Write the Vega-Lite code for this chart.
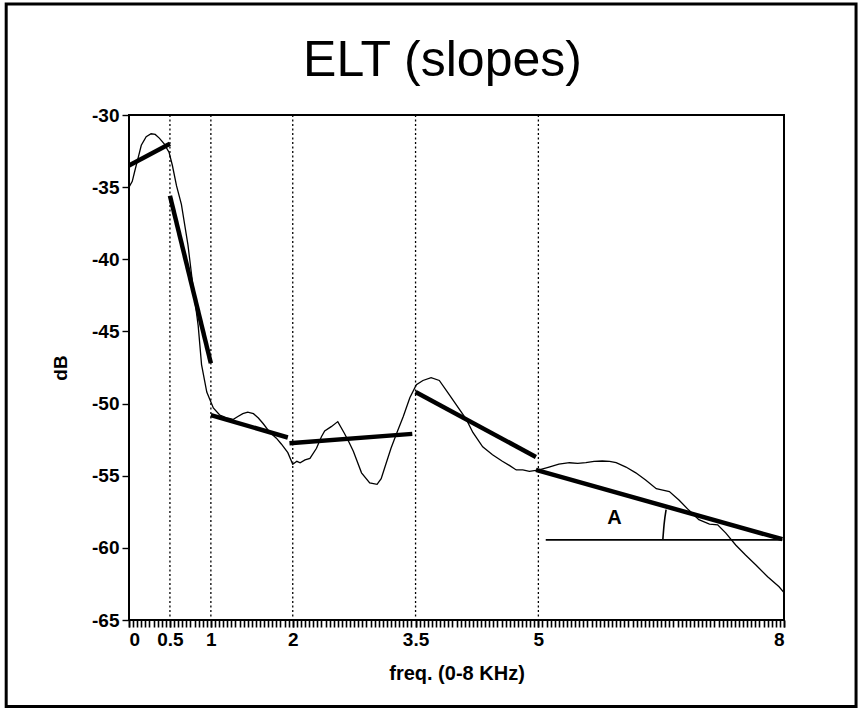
{
  "$schema": "https://vega.github.io/schema/vega-lite/v6.json",
  "autosize": {"type": "none"},
  "width": 655,
  "height": 505,
  "padding": {"left": 129, "top": 115, "right": 76, "bottom": 89},
  "background": "white",
  "title": {
    "text": "ELT (slopes)",
    "font": "Liberation Sans, Arial, sans-serif",
    "fontSize": 50,
    "fontWeight": "normal",
    "color": "#000",
    "anchor": "middle",
    "baseline": "alphabetic",
    "offset": -124,
    "dx": -14
  },
  "config": {
    "view": {"stroke": "#000", "strokeWidth": 2},
    "font": "Liberation Sans, Arial, sans-serif",
    "axis": {
      "grid": false,
      "domain": false,
      "tickColor": "#000",
      "labelColor": "#000",
      "titleColor": "#000",
      "labelFont": "Liberation Sans, Arial, sans-serif",
      "titleFont": "Liberation Sans, Arial, sans-serif"
    }
  },
  "datasets": {
    "guides": [{"f": 0.5}, {"f": 1}, {"f": 2}, {"f": 3.5}, {"f": 5}],
    "spectrum": [
      {"f": 0.0, "db": -35.0}, {"f": 0.04, "db": -34.6}, {"f": 0.07, "db": -33.9}, {"f": 0.11, "db": -33.0},
      {"f": 0.15, "db": -32.1}, {"f": 0.21, "db": -31.5}, {"f": 0.27, "db": -31.3}, {"f": 0.32, "db": -31.35},
      {"f": 0.37, "db": -31.6}, {"f": 0.43, "db": -32.0}, {"f": 0.49, "db": -32.6}, {"f": 0.53, "db": -33.5},
      {"f": 0.58, "db": -34.9}, {"f": 0.64, "db": -36.2}, {"f": 0.72, "db": -39.0}, {"f": 0.78, "db": -41.8},
      {"f": 0.845, "db": -44.6}, {"f": 0.886, "db": -47.3}, {"f": 0.95, "db": -49.2}, {"f": 1.03, "db": -50.3},
      {"f": 1.11, "db": -50.8}, {"f": 1.2, "db": -51.0}, {"f": 1.27, "db": -51.1}, {"f": 1.33, "db": -50.9},
      {"f": 1.39, "db": -50.7}, {"f": 1.45, "db": -50.6}, {"f": 1.52, "db": -50.7}, {"f": 1.58, "db": -51.0},
      {"f": 1.64, "db": -51.4}, {"f": 1.72, "db": -52.0}, {"f": 1.8, "db": -52.4}, {"f": 1.86, "db": -52.8},
      {"f": 1.94, "db": -53.4}, {"f": 2.0, "db": -54.2}, {"f": 2.05, "db": -54.0}, {"f": 2.09, "db": -54.1},
      {"f": 2.15, "db": -53.9}, {"f": 2.21, "db": -53.8}, {"f": 2.29, "db": -53.1}, {"f": 2.35, "db": -52.3},
      {"f": 2.39, "db": -51.9}, {"f": 2.47, "db": -51.6}, {"f": 2.55, "db": -51.25}, {"f": 2.63, "db": -52.06},
      {"f": 2.68, "db": -52.6}, {"f": 2.74, "db": -53.3}, {"f": 2.84, "db": -54.8}, {"f": 2.94, "db": -55.5},
      {"f": 3.03, "db": -55.6}, {"f": 3.08, "db": -55.2}, {"f": 3.12, "db": -54.5}, {"f": 3.2, "db": -53.1},
      {"f": 3.28, "db": -51.9}, {"f": 3.35, "db": -50.9}, {"f": 3.43, "db": -49.6}, {"f": 3.51, "db": -48.7},
      {"f": 3.59, "db": -48.4}, {"f": 3.69, "db": -48.2}, {"f": 3.79, "db": -48.4}, {"f": 3.89, "db": -49.2},
      {"f": 4.0, "db": -50.1}, {"f": 4.12, "db": -51.1}, {"f": 4.2, "db": -52.0}, {"f": 4.32, "db": -53.0},
      {"f": 4.44, "db": -53.55}, {"f": 4.56, "db": -54.0}, {"f": 4.65, "db": -54.3}, {"f": 4.73, "db": -54.6},
      {"f": 4.81, "db": -54.6}, {"f": 4.89, "db": -54.7}, {"f": 5.01, "db": -54.6}, {"f": 5.13, "db": -54.4},
      {"f": 5.25, "db": -54.2}, {"f": 5.38, "db": -54.1}, {"f": 5.48, "db": -54.15}, {"f": 5.58, "db": -54.1},
      {"f": 5.68, "db": -54.0}, {"f": 5.78, "db": -53.98}, {"f": 5.87, "db": -54.0}, {"f": 5.95, "db": -54.1},
      {"f": 6.07, "db": -54.4}, {"f": 6.19, "db": -54.8}, {"f": 6.31, "db": -55.3}, {"f": 6.44, "db": -55.9},
      {"f": 6.52, "db": -56.0}, {"f": 6.6, "db": -56.1}, {"f": 6.72, "db": -56.7}, {"f": 6.84, "db": -57.4},
      {"f": 6.96, "db": -58.05}, {"f": 7.09, "db": -58.35}, {"f": 7.19, "db": -58.4}, {"f": 7.29, "db": -58.98},
      {"f": 7.41, "db": -59.8}, {"f": 7.53, "db": -60.5}, {"f": 7.66, "db": -61.2}, {"f": 7.8, "db": -62.0},
      {"f": 7.94, "db": -62.7}, {"f": 8.0, "db": -63.1}
    ],
    "slopes": [
      {"seg": 1, "f": 0.0, "db": -33.5}, {"seg": 1, "f": 0.5, "db": -32.0},
      {"seg": 2, "f": 0.5, "db": -35.6}, {"seg": 2, "f": 1.0, "db": -47.2},
      {"seg": 3, "f": 1.0, "db": -50.8}, {"seg": 3, "f": 1.94, "db": -52.35},
      {"seg": 4, "f": 1.96, "db": -52.75}, {"seg": 4, "f": 3.46, "db": -52.1},
      {"seg": 5, "f": 3.5, "db": -49.2}, {"seg": 5, "f": 4.97, "db": -53.7},
      {"seg": 6, "f": 4.97, "db": -54.6}, {"seg": 6, "f": 7.98, "db": -59.4}
    ],
    "angle": [
      {"part": "base", "f": 5.09, "db": -59.45}, {"part": "base", "f": 7.98, "db": -59.45},
      {"part": "arc", "f": 6.56, "db": -57.35}, {"part": "arc", "f": 6.535, "db": -58.4}, {"part": "arc", "f": 6.52, "db": -59.45}
    ],
    "labels": [{"f": 5.93, "db": -57.9, "text": "A"}]
  },
  "resolve": {"axis": {"x": "independent"}},
  "layer": [
    {
      "data": {"name": "guides"},
      "mark": {"type": "rule", "color": "#000", "strokeWidth": 1.3, "strokeDash": [2, 2.5]},
      "encoding": {
        "x": {
          "field": "f", "type": "quantitative",
          "scale": {"domain": [0, 8], "nice": false, "zero": false},
          "axis": {"orient": "bottom", "tickCount": 160, "labels": false, "title": null, "tickSize": 7, "tickWidth": 1.6}
        }
      }
    },
    {
      "data": {"name": "spectrum"},
      "mark": {"type": "line", "color": "#000", "strokeWidth": 1.3},
      "encoding": {
        "x": {
          "field": "f", "type": "quantitative",
          "scale": {"domain": [0, 8], "nice": false, "zero": false},
          "axis": {
            "orient": "bottom",
            "values": [0, 0.5, 1, 2, 3.5, 5, 8],
            "labelExpr": "'' + datum.value",
            "tickSize": 7, "tickWidth": 1.6,
            "labelFontSize": 19, "labelFontWeight": "bold", "labelPadding": 3,
            "title": "freq. (0-8 KHz)", "titleFontSize": 20, "titleFontWeight": "bold", "titlePadding": 14
          }
        },
        "y": {
          "field": "db", "type": "quantitative",
          "scale": {"domain": [-65, -30], "nice": false, "zero": false},
          "axis": {
            "orient": "left",
            "values": [-65, -60, -55, -50, -45, -40, -35, -30],
            "labelExpr": "'' + datum.value",
            "tickSize": 7, "tickWidth": 1.4,
            "labelFontSize": 19, "labelFontWeight": "bold", "labelPadding": 3,
            "title": "dB", "titleFontSize": 19, "titleFontWeight": "bold", "titlePadding": 21
          }
        }
      }
    },
    {
      "data": {"name": "slopes"},
      "mark": {"type": "line", "color": "#000", "strokeWidth": 4.5, "strokeCap": "butt"},
      "encoding": {
        "x": {"field": "f", "type": "quantitative", "axis": null},
        "y": {"field": "db", "type": "quantitative"},
        "detail": {"field": "seg", "type": "nominal"}
      }
    },
    {
      "data": {"name": "angle"},
      "mark": {"type": "line", "color": "#000", "strokeWidth": 1.6, "interpolate": "monotone"},
      "encoding": {
        "x": {"field": "f", "type": "quantitative", "axis": null},
        "y": {"field": "db", "type": "quantitative"},
        "detail": {"field": "part", "type": "nominal"},
        "order": {"field": "db", "type": "quantitative"}
      }
    },
    {
      "data": {"name": "labels"},
      "mark": {"type": "text", "color": "#000", "fontSize": 20, "fontWeight": "bold", "font": "Liberation Sans, Arial, sans-serif", "align": "center", "baseline": "middle"},
      "encoding": {
        "x": {"field": "f", "type": "quantitative", "axis": null},
        "y": {"field": "db", "type": "quantitative"},
        "text": {"field": "text", "type": "nominal"}
      }
    },
    {
      "data": {"values": [{}]},
      "mark": {"type": "rect", "fill": null, "fillOpacity": 0, "stroke": "#000", "strokeWidth": 3, "clip": false},
      "encoding": {
        "x": {"datum": -1.5, "type": "quantitative", "axis": null},
        "x2": {"datum": 8.88},
        "y": {"datum": -22.3, "type": "quantitative"},
        "y2": {"datum": -71.0}
      }
    }
  ]
}
